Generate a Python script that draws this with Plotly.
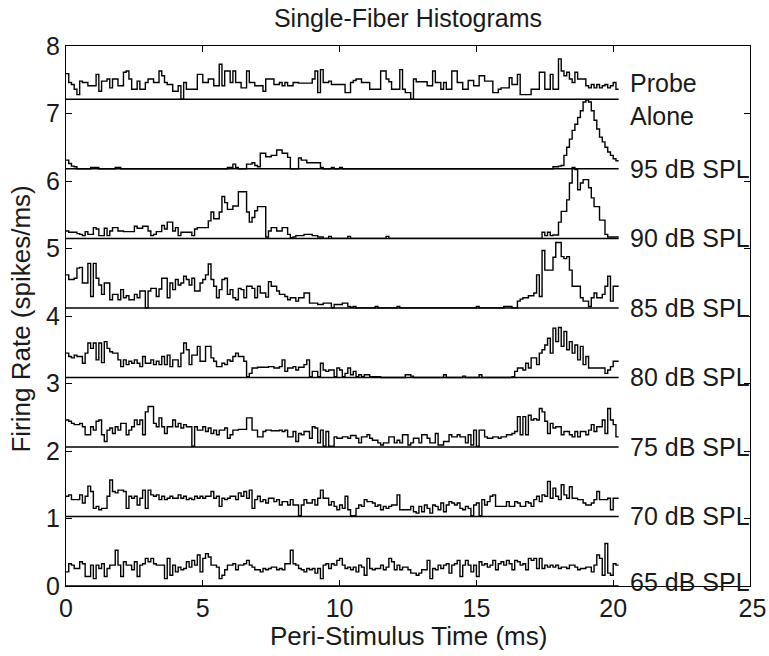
import numpy as np
import plotly.graph_objects as go

# Peri-stimulus time histograms, 0.1 ms bins, firing rate in spikes/ms
BIN_MS = 0.1

probe_alone = [
    0.38, 0.25, 0.22, 0.15, 0.07, 0.27, 0.25, 0.25, 0.20, 0.20,
    0.20, 0.37, 0.12, 0.27, 0.27, 0.30, 0.17, 0.30, 0.30, 0.20,
    0.20, 0.40, 0.42, 0.30, 0.15, 0.15, 0.27, 0.15, 0.15, 0.25,
    0.30, 0.30, 0.25, 0.25, 0.42, 0.35, 0.25, 0.22, 0.22, 0.12,
    0.12, 0.20, 0.00, 0.25, 0.15, 0.15, 0.15, 0.15, 0.37, 0.37,
    0.25, 0.25, 0.30, 0.30, 0.20, 0.20, 0.52, 0.20, 0.42, 0.42,
    0.25, 0.42, 0.25, 0.25, 0.17, 0.17, 0.42, 0.25, 0.25, 0.20,
    0.20, 0.20, 0.12, 0.30, 0.30, 0.30, 0.22, 0.22, 0.25, 0.20,
    0.25, 0.20, 0.20, 0.25, 0.25, 0.24, 0.24, 0.24, 0.24, 0.24,
    0.30, 0.42, 0.10, 0.44, 0.25, 0.25, 0.27, 0.22, 0.22, 0.22,
    0.22, 0.22, 0.10, 0.10, 0.25, 0.28, 0.30, 0.30, 0.25, 0.25,
    0.25, 0.15, 0.15, 0.15, 0.15, 0.42, 0.42, 0.30, 0.26, 0.15,
    0.15, 0.15, 0.44, 0.15, 0.10, 0.10, 0.00, 0.30, 0.26, 0.26,
    0.26, 0.26, 0.20, 0.20, 0.42, 0.25, 0.25, 0.15, 0.25, 0.15,
    0.15, 0.42, 0.42, 0.25, 0.25, 0.15, 0.15, 0.28, 0.28, 0.20,
    0.20, 0.35, 0.35, 0.27, 0.27, 0.27, 0.10, 0.10, 0.15, 0.17,
    0.17, 0.17, 0.32, 0.22, 0.22, 0.37, 0.07, 0.07, 0.07, 0.07,
    0.15, 0.15, 0.15, 0.40, 0.40, 0.15, 0.15, 0.37, 0.15, 0.15,
    0.60, 0.42, 0.35, 0.40, 0.30, 0.25, 0.40, 0.30, 0.30, 0.30,
    0.20, 0.17, 0.22, 0.17, 0.22, 0.17, 0.20, 0.22, 0.17, 0.20,
    0.25, 0.15,
]

spl_95 = [
    0.13, 0.08, 0.04, 0.03, 0, 0, 0, 0, 0, 0.02,
    0.02, 0.02, 0, 0, 0, 0, 0, 0, 0.02, 0.02,
    0, 0, 0, 0, 0, 0, 0, 0, 0, 0,
    0, 0, 0, 0, 0, 0, 0, 0, 0, 0,
    0, 0, 0, 0, 0, 0, 0, 0, 0, 0,
    0, 0, 0, 0, 0, 0, 0, 0, 0, 0.02,
    0.02, 0.07, 0.02, 0, 0, 0, 0.07, 0.07, 0.09, 0.05,
    0.03, 0.23, 0.23, 0.18, 0.18, 0.20, 0.20, 0.28, 0.28, 0.23,
    0.23, 0.17, 0, 0, 0, 0.16, 0.13, 0.13, 0.09, 0.09,
    0.09, 0.09, 0.09, 0.02, 0, 0, 0, 0.02, 0, 0,
    0.02, 0, 0, 0, 0, 0, 0, 0, 0, 0,
    0, 0, 0, 0, 0, 0, 0, 0, 0, 0,
    0, 0, 0, 0, 0, 0, 0, 0, 0, 0,
    0, 0, 0, 0, 0, 0, 0, 0, 0, 0,
    0, 0, 0, 0, 0, 0, 0, 0, 0, 0,
    0, 0, 0, 0, 0, 0, 0, 0, 0, 0,
    0, 0, 0, 0, 0, 0, 0, 0, 0, 0,
    0, 0, 0, 0, 0, 0, 0, 0, 0.03, 0.03,
    0.04, 0.05, 0.20, 0.32, 0.44, 0.57, 0.66, 0.76, 0.86, 0.99,
    1.02, 0.99, 0.86, 0.72, 0.59, 0.47, 0.40, 0.32, 0.25, 0.20,
    0.15, 0.12,
]

spl_90 = [
    0.11, 0.09, 0.09, 0.09, 0.07, 0.06, 0.04, 0.10, 0.06, 0.06,
    0.16, 0.14, 0.04, 0.04, 0.15, 0.04, 0.11, 0.16, 0.16, 0.11,
    0.11, 0.10, 0.10, 0.10, 0.10, 0.18, 0.15, 0.15, 0.18, 0.18,
    0.11, 0.04, 0.06, 0.10, 0.10, 0.19, 0.14, 0.24, 0.24, 0.11,
    0.16, 0.04, 0.09, 0.09, 0.09, 0.09, 0.04, 0.14, 0.16, 0.16,
    0.16, 0.16, 0.26, 0.39, 0.29, 0.29, 0.39, 0.62, 0.53, 0.43,
    0.43, 0.48, 0.48, 0.69, 0.69, 0.69, 0.39, 0.24, 0.31, 0.41,
    0.47, 0.47, 0.47, 0.02, 0.11, 0.16, 0.16, 0.11, 0.11, 0.16,
    0.16, 0.06, 0.01, 0.02, 0.04, 0.04, 0.04, 0.06, 0.06, 0.06,
    0.04, 0.04, 0.02, 0.02, 0, 0, 0.03, 0, 0, 0,
    0, 0, 0, 0.03, 0, 0, 0, 0, 0, 0,
    0, 0, 0, 0, 0, 0, 0, 0.03, 0, 0,
    0, 0, 0, 0, 0, 0, 0, 0, 0, 0,
    0, 0, 0, 0, 0, 0, 0, 0, 0, 0,
    0, 0, 0, 0, 0, 0, 0, 0, 0, 0,
    0, 0, 0, 0, 0, 0, 0, 0, 0, 0,
    0, 0, 0, 0, 0, 0, 0, 0, 0, 0,
    0, 0, 0, 0, 0.09, 0.04, 0.09, 0.04, 0.05, 0.05,
    0.24, 0.40, 0.40, 0.57, 0.82, 1.05, 1.02, 0.72, 0.82, 0.87,
    0.87, 0.75, 0.60, 0.47, 0.47, 0.27, 0.27, 0.06, 0.02, 0.02,
    0.02, 0.02,
]

spl_85 = [
    0.49, 0.42, 0.42, 0.44, 0.59, 0.60, 0.37, 0.37, 0.66, 0.17,
    0.66, 0.44, 0.34, 0.20, 0.37, 0.37, 0.12, 0.20, 0.20, 0.12,
    0.27, 0.15, 0.18, 0.12, 0.12, 0.20, 0.15, 0.25, 0.25, 0.00,
    0.25, 0.29, 0.29, 0.17, 0.28, 0.44, 0.44, 0.15, 0.37, 0.27,
    0.42, 0.34, 0.37, 0.47, 0.42, 0.34, 0.44, 0.25, 0.25, 0.37,
    0.42, 0.49, 0.65, 0.42, 0.32, 0.15, 0.27, 0.42, 0.44, 0.20,
    0.27, 0.15, 0.12, 0.29, 0.27, 0.15, 0.32, 0.32, 0.29, 0.15,
    0.32, 0.22, 0.22, 0.16, 0.39, 0.32, 0.32, 0.25, 0.20, 0.20,
    0.17, 0.12, 0.15, 0.15, 0.10, 0.15, 0.15, 0.22, 0.22, 0.07,
    0.07, 0.07, 0.05, 0.05, 0.07, 0.07, 0.07, 0.00, 0.05, 0.05,
    0.05, 0.07, 0.07, 0.02, 0.01, 0.02, 0, 0, 0, 0,
    0, 0, 0, 0.02, 0, 0, 0, 0, 0, 0,
    0, 0.02, 0, 0, 0, 0, 0, 0, 0, 0,
    0, 0, 0, 0, 0, 0, 0, 0, 0, 0,
    0, 0, 0, 0, 0, 0, 0, 0, 0, 0,
    0.02, 0, 0, 0, 0, 0, 0, 0, 0, 0,
    0.02, 0.02, 0.02, 0, 0, 0.10, 0.13, 0.15, 0.15, 0.18,
    0.18, 0.22, 0.49, 0.17, 0.85, 0.56, 0.56, 0.56, 0.75, 0.97,
    0.97, 0.76, 0.73, 0.76, 0.56, 0.32, 0.32, 0.32, 0.15, 0.10,
    0.10, 0.02, 0.15, 0.22, 0.15, 0.15, 0.20, 0.32, 0.47, 0.10,
    0.32, 0.32,
]

spl_80 = [
    0.36, 0.31, 0.29, 0.33, 0.31, 0.31, 0.21, 0.36, 0.51, 0.43,
    0.51, 0.26, 0.51, 0.22, 0.53, 0.43, 0.38, 0.36, 0.36, 0.26,
    0.16, 0.26, 0.19, 0.24, 0.21, 0.26, 0.21, 0.16, 0.31, 0.21,
    0.21, 0.26, 0.19, 0.24, 0.19, 0.31, 0.19, 0.33, 0.16, 0.26,
    0.26, 0.16, 0.36, 0.51, 0.41, 0.19, 0.33, 0.33, 0.46, 0.24,
    0.24, 0.46, 0.46, 0.29, 0.24, 0.16, 0.16, 0.21, 0.19, 0.26,
    0.24, 0.31, 0.36, 0.31, 0.31, 0.24, 0.01, 0.06, 0.14, 0.14,
    0.15, 0.15, 0.15, 0.15, 0.16, 0.16, 0.14, 0.14, 0.16, 0.26,
    0.09, 0.14, 0.14, 0.16, 0.11, 0.15, 0.15, 0.19, 0.26, 0.01,
    0.09, 0.09, 0.01, 0.21, 0.11, 0.09, 0.11, 0.11, 0.01, 0.14,
    0.11, 0.01, 0.06, 0.14, 0.04, 0.09, 0.01, 0.04, 0.01, 0.04,
    0.04, 0.01, 0.01, 0.01, 0.01, 0, 0, 0, 0, 0,
    0, 0, 0, 0, 0.04, 0.04, 0.02, 0, 0, 0,
    0, 0, 0, 0, 0, 0, 0, 0, 0.04, 0,
    0, 0, 0, 0, 0, 0.02, 0, 0, 0, 0,
    0, 0.04, 0, 0, 0, 0, 0, 0, 0, 0,
    0, 0, 0, 0.01, 0.09, 0.14, 0.14, 0.11, 0.21, 0.14,
    0.29, 0.29, 0.19, 0.36, 0.41, 0.48, 0.58, 0.36, 0.73, 0.53,
    0.74, 0.46, 0.68, 0.41, 0.53, 0.36, 0.48, 0.26, 0.46, 0.19,
    0.31, 0.14, 0.14, 0.14, 0.14, 0.14, 0.14, 0.06, 0.11, 0.16,
    0.24, 0.24,
]

spl_75 = [
    0.40, 0.38, 0.35, 0.33, 0.33, 0.35, 0.30, 0.18, 0.18, 0.30,
    0.25, 0.38, 0.40, 0.18, 0.08, 0.25, 0.28, 0.20, 0.30, 0.25,
    0.35, 0.35, 0.18, 0.25, 0.30, 0.40, 0.33, 0.40, 0.18, 0.52,
    0.60, 0.60, 0.35, 0.30, 0.43, 0.30, 0.20, 0.30, 0.30, 0.40,
    0.30, 0.35, 0.28, 0.33, 0.30, 0.30, 0.01, 0.30, 0.25, 0.25,
    0.30, 0.23, 0.28, 0.20, 0.25, 0.18, 0.25, 0.25, 0.28, 0.13,
    0.18, 0.25, 0.25, 0.26, 0.26, 0.26, 0.43, 0.43, 0.25, 0.25,
    0.15, 0.15, 0.23, 0.25, 0.25, 0.24, 0.24, 0.24, 0.25, 0.23,
    0.25, 0.15, 0.15, 0.23, 0.08, 0.20, 0.18, 0.23, 0.23, 0.13,
    0.30, 0.28, 0.06, 0.25, 0.01, 0.23, 0.01, 0.01, 0.15, 0.13,
    0.13, 0.15, 0.15, 0.13, 0.17, 0.17, 0.13, 0.06, 0.15, 0.15,
    0.18, 0.13, 0.10, 0.10, 0.06, 0.03, 0.06, 0.06, 0.15, 0.15,
    0.06, 0.10, 0.06, 0.18, 0.18, 0.03, 0.06, 0.13, 0.13, 0.06,
    0.18, 0.18, 0.13, 0.06, 0.06, 0.20, 0.03, 0.03, 0.08, 0.08,
    0.18, 0.15, 0.15, 0.18, 0.15, 0.15, 0.06, 0.18, 0.03, 0.25,
    0.01, 0.25, 0.25, 0.15, 0.13, 0.13, 0.15, 0.15, 0.13, 0.15,
    0.15, 0.18, 0.18, 0.20, 0.23, 0.45, 0.18, 0.45, 0.18, 0.47,
    0.40, 0.42, 0.40, 0.57, 0.52, 0.38, 0.20, 0.35, 0.28, 0.30,
    0.30, 0.18, 0.23, 0.23, 0.18, 0.15, 0.23, 0.15, 0.23, 0.23,
    0.18, 0.25, 0.33, 0.23, 0.30, 0.30, 0.40, 0.20, 0.57, 0.40,
    0.33, 0.15,
]

spl_70 = [
    0.30, 0.32, 0.25, 0.25, 0.25, 0.32, 0.20, 0.30, 0.45, 0.37,
    0.12, 0.15, 0.10, 0.12, 0.12, 0.30, 0.54, 0.37, 0.35, 0.39,
    0.39, 0.37, 0.12, 0.30, 0.27, 0.30, 0.17, 0.27, 0.39, 0.12,
    0.39, 0.32, 0.30, 0.32, 0.25, 0.30, 0.25, 0.27, 0.30, 0.27,
    0.27, 0.32, 0.27, 0.30, 0.25, 0.27, 0.25, 0.30, 0.27, 0.30,
    0.27, 0.30, 0.30, 0.37, 0.27, 0.30, 0.15, 0.27, 0.25, 0.27,
    0.30, 0.30, 0.25, 0.35, 0.30, 0.37, 0.27, 0.39, 0.12, 0.25,
    0.30, 0.22, 0.25, 0.20, 0.27, 0.27, 0.22, 0.25, 0.17, 0.22,
    0.22, 0.17, 0.25, 0.17, 0.17, 0.01, 0.17, 0.25, 0.20, 0.20,
    0.25, 0.17, 0.27, 0.39, 0.27, 0.27, 0.17, 0.22, 0.15, 0.10,
    0.17, 0.12, 0.30, 0.10, 0.01, 0.01, 0.12, 0.17, 0.15, 0.25,
    0.22, 0.22, 0.20, 0.15, 0.17, 0.10, 0.15, 0.12, 0.15, 0.17,
    0.17, 0.32, 0.10, 0.10, 0.10, 0.10, 0.15, 0.07, 0.05, 0.15,
    0.07, 0.17, 0.12, 0.05, 0.17, 0.15, 0.10, 0.20, 0.07, 0.17,
    0.22, 0.20, 0.17, 0.20, 0.12, 0.10, 0.15, 0.12, 0.01, 0.17,
    0.20, 0.01, 0.25, 0.17, 0.22, 0.30, 0.32, 0.15, 0.15, 0.15,
    0.15, 0.22, 0.15, 0.15, 0.22, 0.20, 0.15, 0.15, 0.22, 0.20,
    0.15, 0.25, 0.30, 0.22, 0.32, 0.30, 0.52, 0.27, 0.42, 0.30,
    0.25, 0.47, 0.32, 0.27, 0.44, 0.27, 0.27, 0.25, 0.25, 0.20,
    0.17, 0.17, 0.20, 0.25, 0.37, 0.25, 0.25, 0.25, 0.27, 0.10,
    0.27, 0.27,
]

spl_65 = [
    0.21, 0.33, 0.31, 0.26, 0.26, 0.36, 0.33, 0.14, 0.14, 0.31,
    0.11, 0.31, 0.26, 0.33, 0.14, 0.26, 0.31, 0.31, 0.53, 0.31,
    0.14, 0.36, 0.31, 0.31, 0.24, 0.36, 0.14, 0.31, 0.33, 0.41,
    0.36, 0.41, 0.33, 0.31, 0.31, 0.31, 0.11, 0.41, 0.16, 0.31,
    0.21, 0.28, 0.24, 0.26, 0.36, 0.28, 0.38, 0.31, 0.46, 0.21,
    0.41, 0.48, 0.43, 0.31, 0.31, 0.28, 0.11, 0.16, 0.24, 0.31,
    0.31, 0.33, 0.24, 0.31, 0.31, 0.33, 0.38, 0.31, 0.28, 0.24,
    0.24, 0.21, 0.26, 0.24, 0.26, 0.28, 0.28, 0.24, 0.26, 0.24,
    0.33, 0.33, 0.53, 0.33, 0.31, 0.26, 0.24, 0.21, 0.26, 0.24,
    0.26, 0.19, 0.26, 0.11, 0.31, 0.33, 0.26, 0.33, 0.31, 0.38,
    0.41, 0.31, 0.26, 0.28, 0.24, 0.28, 0.21, 0.31, 0.28, 0.16,
    0.41, 0.26, 0.24, 0.26, 0.26, 0.31, 0.24, 0.28, 0.41, 0.36,
    0.24, 0.31, 0.24, 0.28, 0.28, 0.24, 0.19, 0.19, 0.16, 0.19,
    0.24, 0.24, 0.38, 0.11, 0.26, 0.24, 0.31, 0.26, 0.31, 0.33,
    0.19, 0.31, 0.33, 0.38, 0.14, 0.31, 0.38, 0.31, 0.21, 0.31,
    0.14, 0.36, 0.31, 0.33, 0.28, 0.31, 0.38, 0.24, 0.33, 0.36,
    0.31, 0.38, 0.33, 0.24, 0.38, 0.36, 0.31, 0.33, 0.24, 0.41,
    0.38, 0.41, 0.26, 0.41, 0.26, 0.31, 0.28, 0.31, 0.28, 0.31,
    0.26, 0.28, 0.28, 0.26, 0.31, 0.31, 0.28, 0.24, 0.26, 0.26,
    0.28, 0.28, 0.21, 0.31, 0.46, 0.41, 0.16, 0.63, 0.19, 0.16,
    0.33, 0.31,
]

condition_labels = ["Probe<br>Alone", "95 dB SPL", "90 dB SPL", "85 dB SPL",
                    "80 dB SPL", "75 dB SPL", "70 dB SPL", "65 dB SPL"]
series = [probe_alone, spl_95, spl_90, spl_85, spl_80, spl_75, spl_70, spl_65]
# vertical offset (spikes/ms) of each histogram's baseline in the stack
stack_offsets = [7.21, 6.18, 5.15, 4.12, 3.09, 2.06, 1.03, 0.0]

x_ticks = [0, 5, 10, 15, 20, 25]
# the last label is nudged a little right of its tick, toward the page edge
x_tick_text = ["0", "5", "10", "15", "20", "\u200925"]
y_ticks = [0, 1, 2, 3, 4, 5, 6, 7, 8]

FONT = "Liberation Sans, Arial, Helvetica, sans-serif"
TEXT_COLOR = "#1a1a1a"
FS_TICK = 25
FS_LABEL = 25
FS_TITLE = 25
FS_AXIS = 26

fig = go.Figure()
annotations = []
for vals, off, label in zip(series, stack_offsets, condition_labels):
    vals = np.asarray(vals, dtype=float)
    edges = np.arange(len(vals) + 1) * BIN_MS
    y = np.append(vals, vals[-1]) + off
    # baseline of this histogram
    fig.add_trace(go.Scatter(
        x=[0, edges[-1]], y=[off, off], mode="lines",
        line=dict(color="black", width=1.5),
        hoverinfo="skip", showlegend=False))
    # stair-step histogram outline
    fig.add_trace(go.Scatter(
        x=edges, y=y, mode="lines",
        line=dict(color="black", width=1.4, shape="hv"),
        hoverinfo="skip", showlegend=False))
    annotations.append(dict(
        x=edges[-1] + 0.35, y=off, xref="x", yref="y",
        text=label, showarrow=False, xanchor="left", yanchor="middle",
        align="left", yshift=4 if off == 0 else 0,
        font=dict(family=FONT, size=FS_LABEL, color=TEXT_COLOR)))

annotations.append(dict(
    x=0.5, y=-0.092, xref="paper", yref="paper",
    text="Peri-Stimulus Time (ms)", showarrow=False,
    xanchor="center", yanchor="middle",
    font=dict(family=FONT, size=FS_AXIS, color=TEXT_COLOR)))
annotations.append(dict(
    x=-0.066, y=0.495, xref="paper", yref="paper",
    text="Firing Rate (spikes/ms)", showarrow=False, textangle=-90,
    xanchor="center", yanchor="middle",
    font=dict(family=FONT, size=FS_AXIS, color=TEXT_COLOR)))

axis_style = dict(
    showline=True, linecolor="black", linewidth=1.2, mirror="ticks",
    ticks="inside", ticklen=6, tickwidth=1.2, tickcolor="black",
    showgrid=False, zeroline=False, ticklabeloverflow="allow",
    automargin=False,
    tickfont=dict(family=FONT, size=FS_TICK, color=TEXT_COLOR),
)

fig.update_layout(
    width=769, height=656,
    margin=dict(l=66, r=19, t=46, b=70, autoexpand=False),
    paper_bgcolor="white", plot_bgcolor="white",
    title=dict(text="Single-Fiber Histograms", x=0.5, xref="paper",
               xanchor="center", y=1 - 18 / 656, yref="container",
               yanchor="middle",
               font=dict(family=FONT, size=FS_TITLE, color=TEXT_COLOR)),
    xaxis=dict(range=[0, 25], tickvals=x_ticks, ticktext=x_tick_text,
               **axis_style),
    yaxis=dict(range=[0, 8], tickvals=y_ticks, **axis_style),
    annotations=annotations,
)

fig.write_html("out.html")
